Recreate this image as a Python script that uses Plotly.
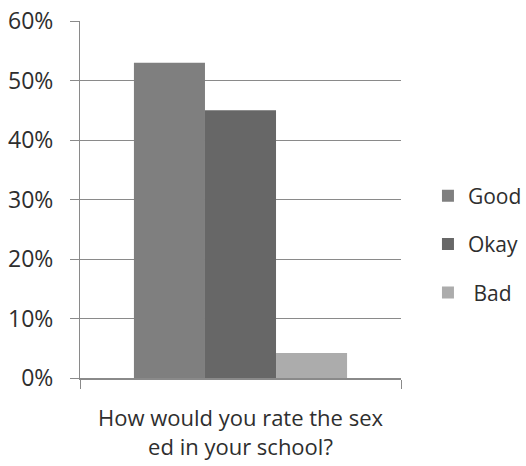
import plotly.graph_objects as go

# Survey responses for the single question
question = ["How would you rate the sex<br>ed in your school?"]
ratings = ["Good", "Okay", "\u00a0Bad"]
shares = [0.53, 0.45, 0.042]
bar_colors = ["#7f7f7f", "#676767", "#acacac"]

FONT = "Open Sans"
TEXT = "#2e2e2e"
AXIS = "#8a8a8a"

fig = go.Figure()
for name, val, col in zip(ratings, shares, bar_colors):
    fig.add_trace(go.Bar(
        x=question, y=[val], name=name, legendgroup=name,
        marker=dict(color=col, line=dict(width=0)),
    ))

fig.update_layout(
    width=526, height=466,
    margin=dict(l=80, r=125, t=21, b=88, autoexpand=False),
    paper_bgcolor="white", plot_bgcolor="white",
    barmode="group", bargap=0.336, bargroupgap=0,
    font=dict(family=FONT, color=TEXT),
    legend=dict(
        x=1.084, xanchor="left", y=0.375, yanchor="middle",
        font=dict(size=21, family=FONT, color=TEXT),
        tracegroupgap=18, bgcolor="rgba(0,0,0,0)",
    ),
    xaxis=dict(
        showline=True, linecolor=AXIS, linewidth=1.5,
        ticks="outside", tickson="boundaries", ticklen=9,
        tickcolor=AXIS, tickfont=dict(size=22, family=FONT, color=TEXT),
        ticklabelstandoff=20,
        showgrid=False,
    ),
    yaxis=dict(
        range=[0, 0.6], dtick=0.1, tickformat=".0%",
        showline=True, linecolor=AXIS, linewidth=1,
        ticks="outside", ticklen=9, tickcolor=AXIS,
        showgrid=True, gridcolor=AXIS, gridwidth=1,
        zeroline=False, ticklabelstandoff=12,
        tickfont=dict(size=23, family=FONT, color=TEXT),
    ),
)

fig.write_html("out.html")
